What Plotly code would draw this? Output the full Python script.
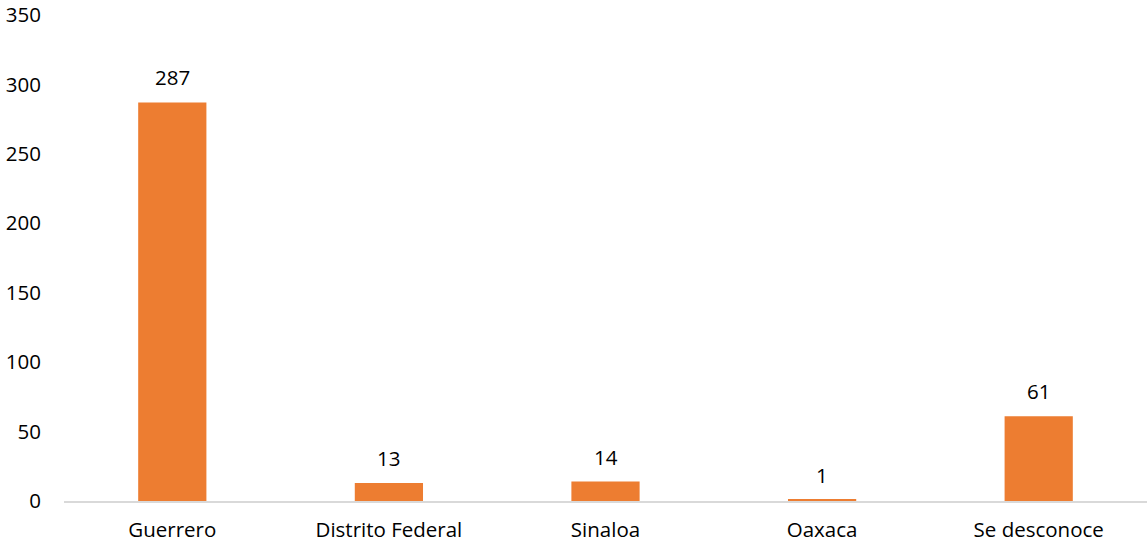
import plotly.graph_objects as go

categories = ["Guerrero", "Distrito Federal", "Sinaloa", "Oaxaca", "Se desconoce"]
values = [287, 13, 14, 1, 61]
y_ticks = [0, 50, 100, 150, 200, 250, 300, 350]

FONT = "Open Sans, sans-serif"
FS = 20.5

fig = go.Figure()
fig.add_trace(go.Bar(
    x=categories, y=values,
    marker=dict(color="#ED7D31", line=dict(width=0)),
    width=0.315,
))
for c, v in zip(categories, values):
    fig.add_annotation(x=c, y=v, text=str(v), showarrow=False,
                       yshift=25, font=dict(size=FS, color="#000000", family=FONT))

fig.update_layout(
    width=1147, height=546,
    margin=dict(l=64, r=0, t=15, b=45),
    plot_bgcolor="white", paper_bgcolor="white",
    showlegend=False,
    font=dict(family=FONT, size=FS, color="#000000"),
)
fig.update_xaxes(showline=True, linecolor="#D9D9D9", linewidth=1.5,
                 showgrid=False, ticks="", ticklabelstandoff=10,
                 tickfont=dict(size=FS, family=FONT))
fig.update_yaxes(range=[0, 350], tickvals=y_ticks, showgrid=False,
                 zeroline=False, showline=False, ticks="",
                 ticklabelstandoff=22, tickfont=dict(size=FS, family=FONT))

fig.write_html("out.html")
